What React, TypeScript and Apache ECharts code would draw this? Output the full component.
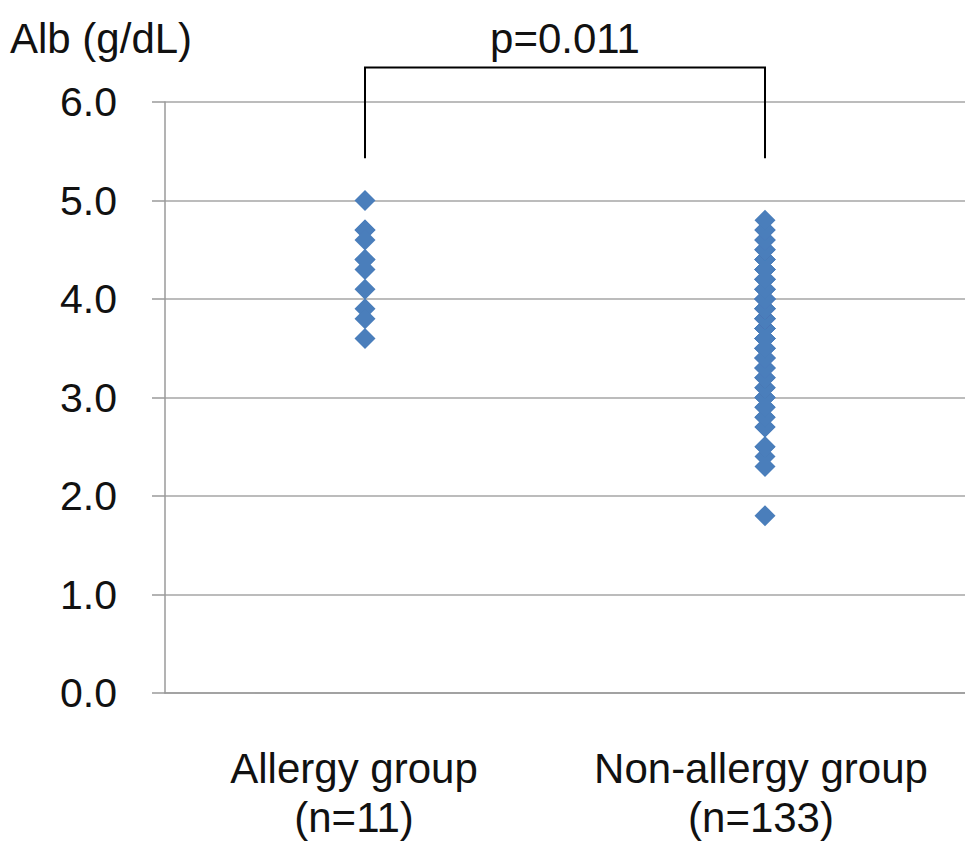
import React, { useEffect, useRef } from "react";
import * as echarts from "echarts";

const categories = ["Allergy group\n(n=11)", "Non-allergy group\n(n=133)"];
const allergyValues = [5.0, 4.7, 4.7, 4.6, 4.4, 4.4, 4.3, 4.1, 3.9, 3.8, 3.6];
const nonAllergyLevels = [1.8, 2.3, 2.4, 2.5, 2.7, 2.8, 2.9, 3.0, 3.1, 3.2, 3.3, 3.4, 3.5, 3.6, 3.7, 3.8, 3.9, 4.0, 4.1, 4.2, 4.3, 4.4, 4.5, 4.6, 4.7, 4.8];
const nonAllergyCounts = [1, 1, 1, 2, 2, 3, 3, 4, 4, 5, 6, 7, 8, 8, 9, 9, 9, 9, 8, 8, 7, 6, 5, 4, 3, 1];
const yMin = 0;
const yMax = 6;
const yInterval = 1;
const yAxisTitle = "Alb (g/dL)";
const pValueLabel = "p=0.011";
const bracketBottomValue = 5.43;
const bracketTopValue = 6.35;

const FONT = "'Liberation Sans', Arial, sans-serif";

export default function App() {
  const ref = useRef<HTMLDivElement>(null);
  useEffect(() => {
    document.body.style.margin = "0";
    if (!ref.current) return;
    const chart = echarts.init(ref.current, null, { renderer: "svg" });
    const nonAllergyData: number[][] = [];
    nonAllergyLevels.forEach((v, i) => {
      for (let k = 0; k < nonAllergyCounts[i]; k++) nonAllergyData.push([1, v]);
    });
    chart.setOption({
      animation: false,
      backgroundColor: "#ffffff",
      grid: { left: 165, right: -6, top: 102, bottom: 155 },
      xAxis: {
        type: "category",
        data: categories,
        boundaryGap: true,
        axisLine: { show: true, lineStyle: { color: "#9a9a9a", width: 1.5 } },
        axisTick: { show: false },
        axisLabel: {
          interval: 0,
          color: "#111",
          fontFamily: FONT,
          fontSize: 42,
          lineHeight: 49,
          margin: 51,
          formatter: (v: string, i: number) =>
            i === 0
              ? v.split("\n").map((s) => `{a|${s}}`).join("\n")
              : v.split("\n").map((s) => `{b|${s}}`).join("\n"),
          rich: {
            a: { fontFamily: FONT, fontSize: 42, lineHeight: 49, color: "#111", padding: [0, 22, 0, 0] },
            b: { fontFamily: FONT, fontSize: 42, lineHeight: 49, color: "#111", padding: [0, 8, 0, 0] },
          },
        },
        splitLine: { show: false },
      },
      yAxis: {
        type: "value",
        min: yMin,
        max: yMax,
        interval: yInterval,
        axisLine: { show: true, lineStyle: { color: "#9a9a9a", width: 1.5 } },
        axisTick: { show: true, length: 13, lineStyle: { color: "#9a9a9a", width: 1.5 } },
        axisLabel: {
          color: "#111",
          fontFamily: FONT,
          fontSize: 41,
          margin: 48,
          formatter: (v: number) => v.toFixed(1),
        },
        splitLine: { show: true, lineStyle: { color: "#a6a6a6", width: 1.5 } },
      },
      series: [
        {
          type: "scatter",
          symbol: "diamond",
          symbolSize: 21,
          itemStyle: { color: "#4a7ebb", opacity: 1 },
          data: allergyValues.map((v) => [0, v]),
        },
        {
          type: "scatter",
          symbol: "diamond",
          symbolSize: 21,
          itemStyle: { color: "#4a7ebb", opacity: 1 },
          data: nonAllergyData,
        },
      ],
    });
    const pLB = chart.convertToPixel({ gridIndex: 0 }, [0, bracketBottomValue]) as number[];
    const pLT = chart.convertToPixel({ gridIndex: 0 }, [0, bracketTopValue]) as number[];
    const pRT = chart.convertToPixel({ gridIndex: 0 }, [1, bracketTopValue]) as number[];
    const pRB = chart.convertToPixel({ gridIndex: 0 }, [1, bracketBottomValue]) as number[];
    chart.setOption({
      graphic: [
        {
          type: "polyline",
          shape: { points: [pLB, pLT, pRT, pRB] },
          style: { stroke: "#000", lineWidth: 2, fill: null },
        },
        {
          type: "text",
          x: (pLT[0] + pRT[0]) / 2,
          y: 38,
          style: {
            text: pValueLabel,
            fontFamily: FONT,
            fontSize: 42,
            fill: "#111",
            textAlign: "center",
            textVerticalAlign: "middle",
          },
        },
        {
          type: "text",
          x: 10,
          y: 38,
          style: {
            text: yAxisTitle,
            fontFamily: FONT,
            fontSize: 42,
            fill: "#111",
            textAlign: "left",
            textVerticalAlign: "middle",
          },
        },
      ],
    });
    return () => chart.dispose();
  }, []);
  return <div ref={ref} style={{ width: 965, height: 848 }} />;
}
